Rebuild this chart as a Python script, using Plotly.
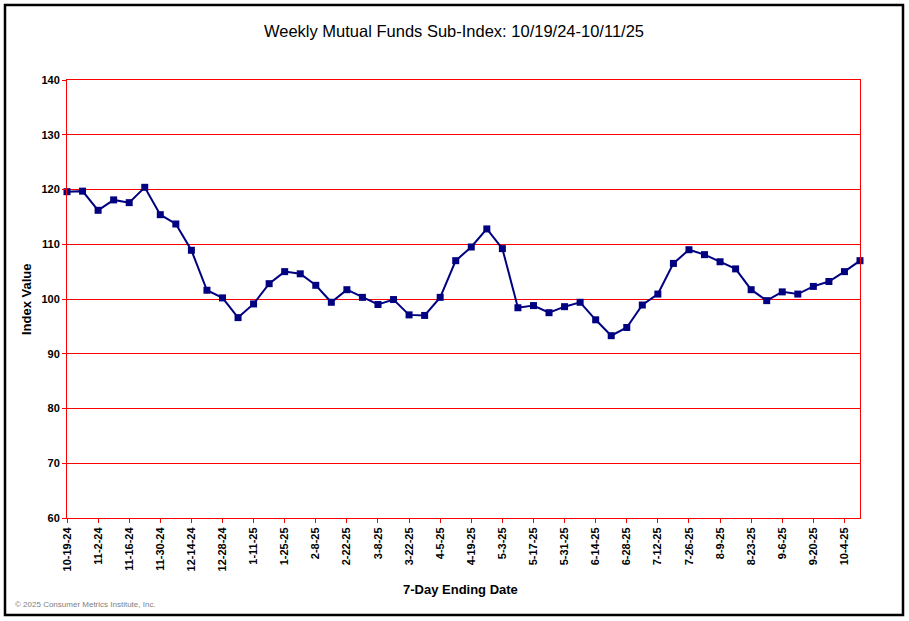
import plotly.graph_objects as go

dates = ["10-19-24", "10-26-24", "11-2-24", "11-9-24", "11-16-24", "11-23-24", "11-30-24",
         "12-7-24", "12-14-24", "12-21-24", "12-28-24", "1-4-25", "1-11-25", "1-18-25",
         "1-25-25", "2-1-25", "2-8-25", "2-15-25", "2-22-25", "3-1-25", "3-8-25", "3-15-25",
         "3-22-25", "3-29-25", "4-5-25", "4-12-25", "4-19-25", "4-26-25", "5-3-25", "5-10-25",
         "5-17-25", "5-24-25", "5-31-25", "6-7-25", "6-14-25", "6-21-25", "6-28-25", "7-5-25",
         "7-12-25", "7-19-25", "7-26-25", "8-2-25", "8-9-25", "8-16-25", "8-23-25", "8-30-25",
         "9-6-25", "9-13-25", "9-20-25", "9-27-25", "10-4-25", "10-11-25"]

index_values = [119.6, 119.7, 116.2, 118.1, 117.6, 120.4, 115.4, 113.7, 108.9, 101.6,
                100.2, 96.6, 99.1, 102.8, 105.0, 104.6, 102.5, 99.4, 101.7, 100.3,
                99.0, 99.9, 97.1, 97.0, 100.3, 107.0, 109.5, 112.8, 109.2, 98.4,
                98.8, 97.5, 98.6, 99.4, 96.2, 93.3, 94.8, 98.9, 100.9, 106.5,
                109.0, 108.1, 106.8, 105.5, 101.7, 99.7, 101.3, 100.9, 102.3, 103.2,
                105.0, 107.0]

tick_labels = dates[::2]
y_ticks = [60, 70, 80, 90, 100, 110, 120, 130, 140]

W, H = 909, 621
L, R, T, B = 67, 860, 80, 518


def px(x):
    return (x - L) / (R - L)


def py(y):
    return (B - y) / (B - T)


fig = go.Figure()
fig.add_trace(go.Scatter(
    x=dates, y=index_values, mode="lines+markers",
    line=dict(color="#000080", width=2),
    marker=dict(symbol="square", size=7, color="#000080"),
    cliponaxis=False, showlegend=False,
))

font = "Arial, 'Liberation Sans', sans-serif"

fig.update_layout(
    width=W, height=H,
    margin=dict(l=L, r=W - R, t=T, b=H - B),
    paper_bgcolor="white", plot_bgcolor="white",
    font=dict(family=font, color="black"),
    title=dict(text="Weekly Mutual Funds Sub-Index: 10/19/24-10/11/25",
               x=px(454), xref="paper", xanchor="center",
               y=1 - 31 / H, yanchor="middle",
               font=dict(size=16.5, family=font, color="black")),
    xaxis=dict(
        type="category", categoryorder="array", categoryarray=dates,
        range=[0, len(dates) - 1],
        tickmode="array", tickvals=tick_labels, ticktext=tick_labels,
        tickangle=-90, tickfont=dict(size=11, family=font, color="black", weight="bold"),
        ticks="outside", ticklen=4, tickcolor="red", tickwidth=1,
        showline=True, linecolor="red", linewidth=1, mirror=True,
        showgrid=False, zeroline=False,
    ),
    yaxis=dict(
        range=[60, 140], tickmode="array", tickvals=y_ticks,
        tickfont=dict(size=11, family=font, color="black", weight="bold"),
        ticks="outside", ticklen=4, tickcolor="red", tickwidth=1,
        showline=True, linecolor="red", linewidth=1, mirror=True,
        showgrid=True, gridcolor="red", gridwidth=1, zeroline=False,
    ),
    annotations=[
        dict(text="Index Value", xref="paper", yref="paper", x=px(26), y=py(299),
             textangle=-90, showarrow=False, xanchor="center", yanchor="middle",
             font=dict(size=13, family=font, color="black", weight="bold")),
        dict(text="7-Day Ending Date", xref="paper", yref="paper", x=px(460), y=py(589),
             showarrow=False, xanchor="center", yanchor="middle",
             font=dict(size=13, family=font, color="black", weight="bold")),
        dict(text="© 2025 Consumer Metrics Institute, Inc.", xref="paper", yref="paper",
             x=px(13), y=py(604), showarrow=False, xanchor="left", yanchor="middle",
             font=dict(size=8, family=font, color="#808080")),
    ],
    shapes=[
        dict(type="rect", xref="paper", yref="paper",
             x0=px(5), x1=px(903), y0=py(615), y1=py(5),
             line=dict(color="black", width=2.5), fillcolor="rgba(0,0,0,0)", layer="above"),
    ],
)

fig.write_html("out.html", config={"displayModeBar": False},
               post_script="document.body.style.margin='0px';document.body.style.padding='0px';")
